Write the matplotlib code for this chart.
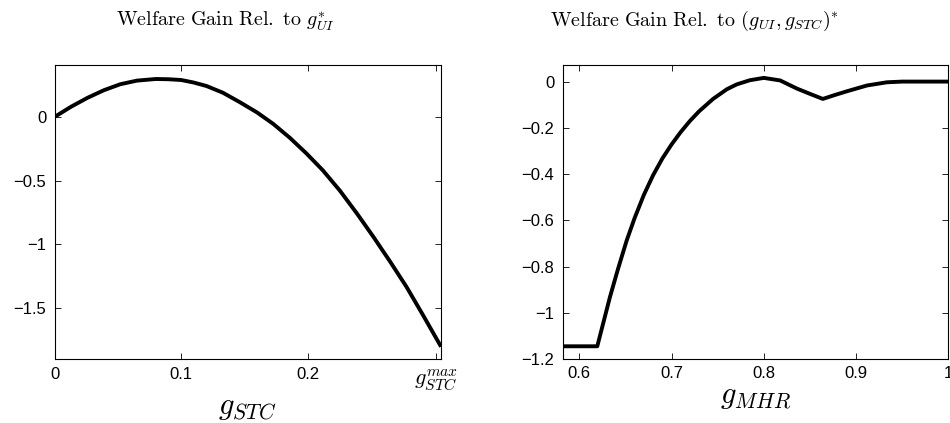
import matplotlib
matplotlib.use("Agg")
import matplotlib.pyplot as plt

plt.rcParams["mathtext.fontset"] = "cm"
plt.rcParams["font.family"] = ["Liberation Sans", "DejaVu Sans"]

# left panel: welfare gain vs g_STC
g_stc = [0, 0.013, 0.026, 0.039, 0.052, 0.065, 0.08, 0.09, 0.1, 0.11, 0.12,
         0.133, 0.1465, 0.16, 0.1728, 0.186, 0.199, 0.212, 0.2255, 0.239,
         0.2519, 0.265, 0.278, 0.291, 0.3045]
gain_stc = [0, 0.08, 0.15, 0.21, 0.257, 0.285, 0.298, 0.296, 0.29, 0.27,
            0.243, 0.19, 0.115, 0.035, -0.055, -0.165, -0.287, -0.42, -0.58,
            -0.76, -0.942, -1.135, -1.334, -1.555, -1.79]
g_stc_max = 0.301

# right panel: welfare gain vs g_MHR
g_mhr = [0.582, 0.6195, 0.6333, 0.642, 0.6514, 0.66, 0.67, 0.68, 0.69, 0.70,
         0.71, 0.72, 0.73, 0.745, 0.76, 0.7707, 0.785, 0.80, 0.8177, 0.8358,
         0.85, 0.864, 0.877, 0.890, 0.9117, 0.9334, 0.95, 1.0]
gain_mhr = [-1.145, -1.145, -0.931, -0.81, -0.687, -0.59, -0.49, -0.405,
            -0.333, -0.272, -0.218, -0.17, -0.128, -0.075, -0.033, -0.012,
            0.006, 0.016, 0.005, -0.03, -0.053, -0.075, -0.058, -0.042,
            -0.017, -0.003, 0.0, 0.0]

left_yticks = [0, -0.5, -1, -1.5]
right_yticks = [0, -0.2, -0.4, -0.6, -0.8, -1, -1.2]
right_xticks = [0.6, 0.7, 0.8, 0.9, 1.0]

fig = plt.figure(figsize=(9.5, 4.23), dpi=100)
ax1 = fig.add_axes([0.0574, 0.1513, 0.4065, 0.6957])
ax2 = fig.add_axes([0.5923, 0.1513, 0.4059, 0.6957])

ax1.plot(g_stc, gain_stc, color="black", lw=2.8, solid_joinstyle="round")
ax1.set_xlim(0, 0.305)
ax1.set_ylim(-1.9, 0.41)
ax1.set_xticks([0, 0.1, 0.2, g_stc_max])
ax1.set_xticklabels(["0", "0.1", "0.2", r"$g_{STC}^{max}$"])
ax1.set_yticks(left_yticks)
ax1.set_yticklabels(["0", "\u22120.5", "\u22121", "\u22121.5"])
ax1.set_xlabel(r"$g_{STC}$", fontsize=22, labelpad=0)

ax2.plot(g_mhr, gain_mhr, color="black", lw=2.8, solid_joinstyle="round")
ax2.set_xlim(0.582, 1.0)
ax2.set_ylim(-1.2, 0.073)
ax2.set_xticks(right_xticks)
ax2.set_xticklabels(["0.6", "0.7", "0.8", "0.9", "1"])
ax2.set_yticks(right_yticks)
ax2.set_yticklabels(["0", "\u22120.2", "\u22120.4", "\u22120.6", "\u22120.8",
                     "\u22121", "\u22121.2"])
ax2.set_xlabel(r"$g_{MHR}$", fontsize=22, labelpad=0)

for ax in (ax1, ax2):
    ax.tick_params(direction="in", length=4, width=0.6, top=True, right=True,
                   labelsize=12, pad=6)
    for sp in ax.spines.values():
        sp.set_linewidth(0.8)
ax1.get_xticklabels()[-1].set_fontsize(16)
ax2.tick_params(axis="x", pad=5)

fig.text(226 / 950, 1 - 21 / 423, r"$\mathrm{Welfare\ Gain\ Rel.\ to\ }g_{UI}^{*}$",
         ha="center", va="center", fontsize=14.5)
fig.text(695 / 950, 1 - 21 / 423,
         r"$\mathrm{Welfare\ Gain\ Rel.\ to\ }(g_{UI},g_{STC})^{*}$",
         ha="center", va="center", fontsize=14.5)

fig.savefig("out.png", dpi=100)
